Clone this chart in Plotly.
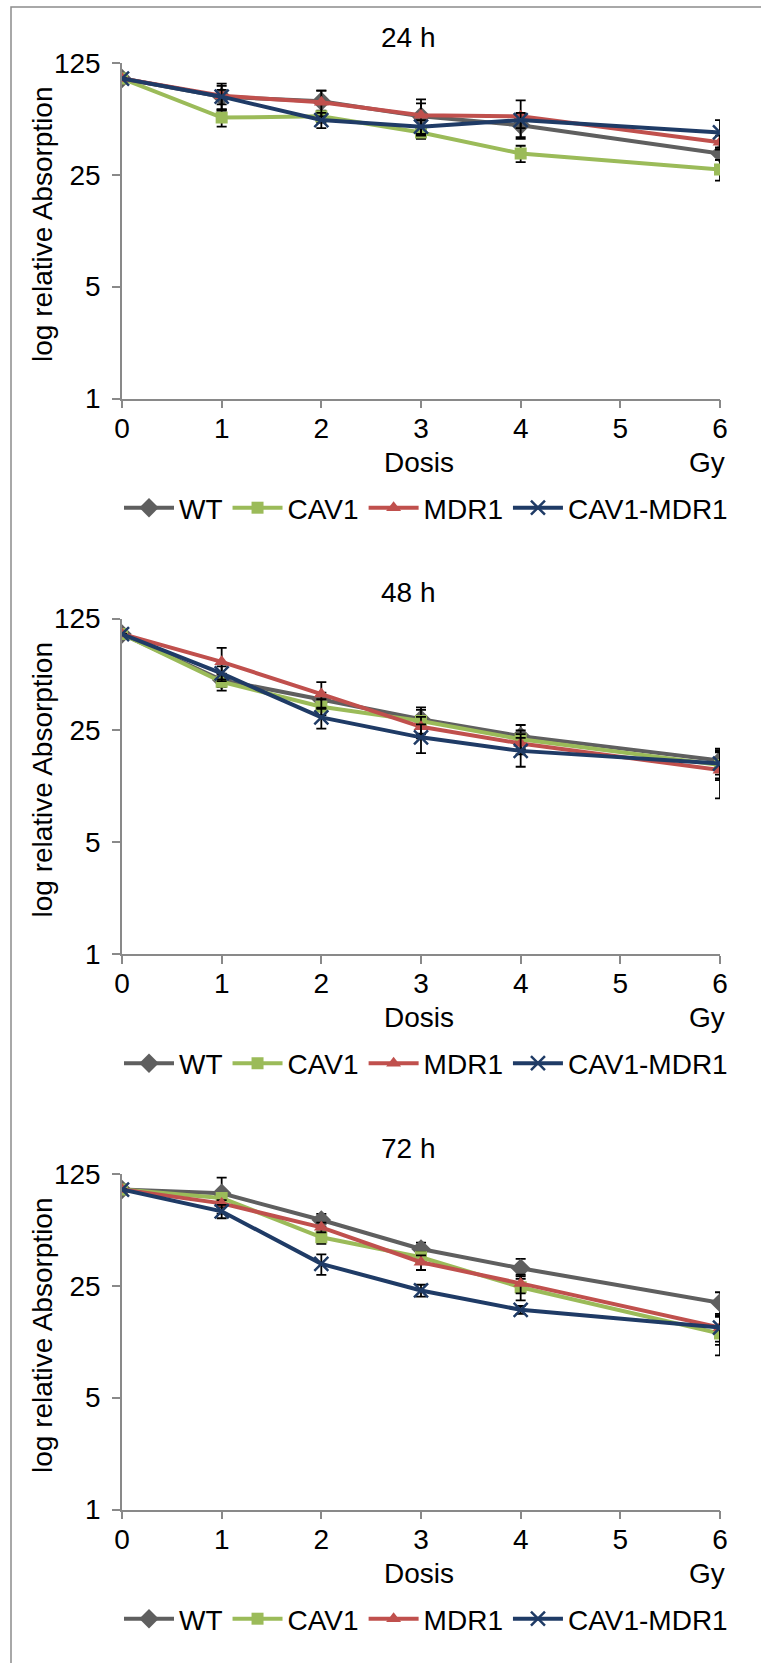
import plotly.graph_objects as go

W, H = 761, 1663

dose = [0, 1, 2, 3, 4, 6]
series_names = ["WT", "CAV1", "MDR1", "CAV1-MDR1"]
panel_titles = ["24 h", "48 h", "72 h"]
y_tickvals = [1, 5, 25, 125]
x_tickvals = [0, 1, 2, 3, 4, 5, 6]

# 24 h
wt_24 = [100, 77, 72, 58, 51, 34]
cav1_24 = [100, 57, 58, 46, 34, 27]
mdr1_24 = [100, 78, 71, 59, 58, 40]
cm_24 = [100, 77, 55, 50, 55, 46]
wt_24_err = [0, 13, 12, 12, 9, 3]
cav1_24_err = [0, 7, 5, 4, 4, 4]
mdr1_24_err = [0, 15, 13, 15, 15, 4]
cm_24_err = [0, 8, 6, 5, 6, 9]

# 48 h
wt_48 = [100, 51.5, 39, 29.3, 23, 16.2]
cav1_48 = [100, 50.3, 35.1, 28.6, 22, 15.2]
mdr1_48 = [100, 67, 42.1, 26.3, 20.7, 14.1]
cm_48 = [100, 56.7, 30.1, 22.6, 18.6, 15.5]
wt_48_err = [0, 5, 4, 5.5, 4, 3]
cav1_48_err = [0, 6, 4, 5, 3, 3]
mdr1_48_err = [0, 15, 8, 4, 3, 4.7]
cm_48_err = [0, 6, 4.5, 4.6, 3.8, 3]

# 72 h
wt_72 = [100, 94.6, 64.5, 42.5, 32.2, 19.6]
cav1_72 = [100, 88.5, 50.3, 37.7, 24.5, 12.6]
mdr1_72 = [100, 81.9, 58, 35.1, 25.9, 13.7]
cm_72 = [100, 73.1, 34.3, 23.4, 17.7, 13.7]
wt_72_err = [0, 24, 6, 4, 4.6, 3.2]
cav1_72_err = [0, 5, 4.5, 3, 4.2, 3.4]
mdr1_72_err = [0, 4, 4, 3.7, 3.5, 3]
cm_72_err = [0, 7, 5, 2, 1, 2.5]

panels = [
    [(wt_24, wt_24_err), (cav1_24, cav1_24_err), (mdr1_24, mdr1_24_err), (cm_24, cm_24_err)],
    [(wt_48, wt_48_err), (cav1_48, cav1_48_err), (mdr1_48, mdr1_48_err), (cm_48, cm_48_err)],
    [(wt_72, wt_72_err), (cav1_72, cav1_72_err), (mdr1_72, mdr1_72_err), (cm_72, cm_72_err)],
]

colors = ["#5f5f5f", "#9bbb59", "#c0504d", "#1f3b66"]
symbols = ["diamond", "square", "triangle-up", "x-thin"]
msizes = [15, 12, 13, 14]

FONT = "Liberation Sans, Arial, sans-serif"
TICK_FS = 28
LEG_FS = 28

fig = go.Figure()

X_LEFT, X_RIGHT = 122, 720
PANEL_DY = 555.5
TOP0, BOT0 = 63, 398.5


def py(ypix):
    return 1 - ypix / H


def px(xpix):
    return xpix / W


def note(text, x, y, xanchor="center", angle=0, size=TICK_FS):
    fig.add_annotation(x=px(x), y=py(y), xref="paper", yref="paper",
                       text=text, showarrow=False, textangle=angle,
                       xanchor=xanchor, yanchor="middle",
                       font=dict(family=FONT, size=size, color="black"))


for p in range(3):
    off = p * PANEL_DY
    sfx = "" if p == 0 else str(p + 1)
    legname = "legend" if p == 0 else f"legend{p + 1}"
    for i, (vals, errs) in enumerate(panels[p]):
        mk = dict(symbol=symbols[i], size=msizes[i], color=colors[i])
        if symbols[i] == "x-thin":
            mk["line"] = dict(width=2.5, color=colors[i])
        fig.add_trace(go.Scatter(
            x=dose, y=vals, name=series_names[i], mode="lines+markers",
            line=dict(color=colors[i], width=4),
            marker=mk,
            error_y=dict(type="data", array=errs, visible=True, color="black",
                         thickness=1.8, width=5),
            xaxis="x" + sfx, yaxis="y" + sfx, legend=legname,
        ))
    axis_common = dict(showline=True, linecolor="#898989", linewidth=1.5,
                       ticks="outside", ticklen=8, tickcolor="#898989", tickwidth=1.5,
                       showgrid=False, zeroline=False, automargin=False,
                       tickfont=dict(family=FONT, size=TICK_FS, color="black"))
    fig.layout["xaxis" + sfx] = dict(
        axis_common, domain=[px(X_LEFT), px(X_RIGHT)], range=[0, 6],
        tickvals=x_tickvals, anchor="y" + sfx, ticklabelstandoff=-4)
    fig.layout["yaxis" + sfx] = dict(
        axis_common, type="log", domain=[py(BOT0 + off), py(TOP0 + off)],
        range=[0, 2.09691], tickvals=y_tickvals, ticktext=[str(v) for v in y_tickvals],
        anchor="x" + sfx, ticklabelstandoff=6)
    fig.layout[legname] = dict(
        orientation="h", x=px(119), xanchor="left", y=py(508 + off), yanchor="middle",
        font=dict(family=FONT, size=LEG_FS, color="black"), bgcolor="rgba(0,0,0,0)",
        itemclick=False, tracegroupgap=0, itemwidth=50)
    note(panel_titles[p], 409, 37 + off)
    note("log relative Absorption", 42, 224 + off, angle=-90, size=LEG_FS)
    note("Dosis", 419, 462 + off)
    note("Gy", 727, 462 + off, xanchor="right")

fig.add_shape(type="rect", xref="paper", yref="paper",
              x0=px(11), y0=-0.02, x1=1.02, y1=py(7),
              line=dict(color="#8c8c8c", width=1.5), fillcolor="rgba(0,0,0,0)")

fig.update_layout(template="none", width=W, height=H,
                  margin=dict(l=0, r=0, t=0, b=0, pad=0, autoexpand=False),
                  paper_bgcolor="white", plot_bgcolor="white", showlegend=True,
                  font=dict(family=FONT, color="black"))

fig.write_html("out.html")
